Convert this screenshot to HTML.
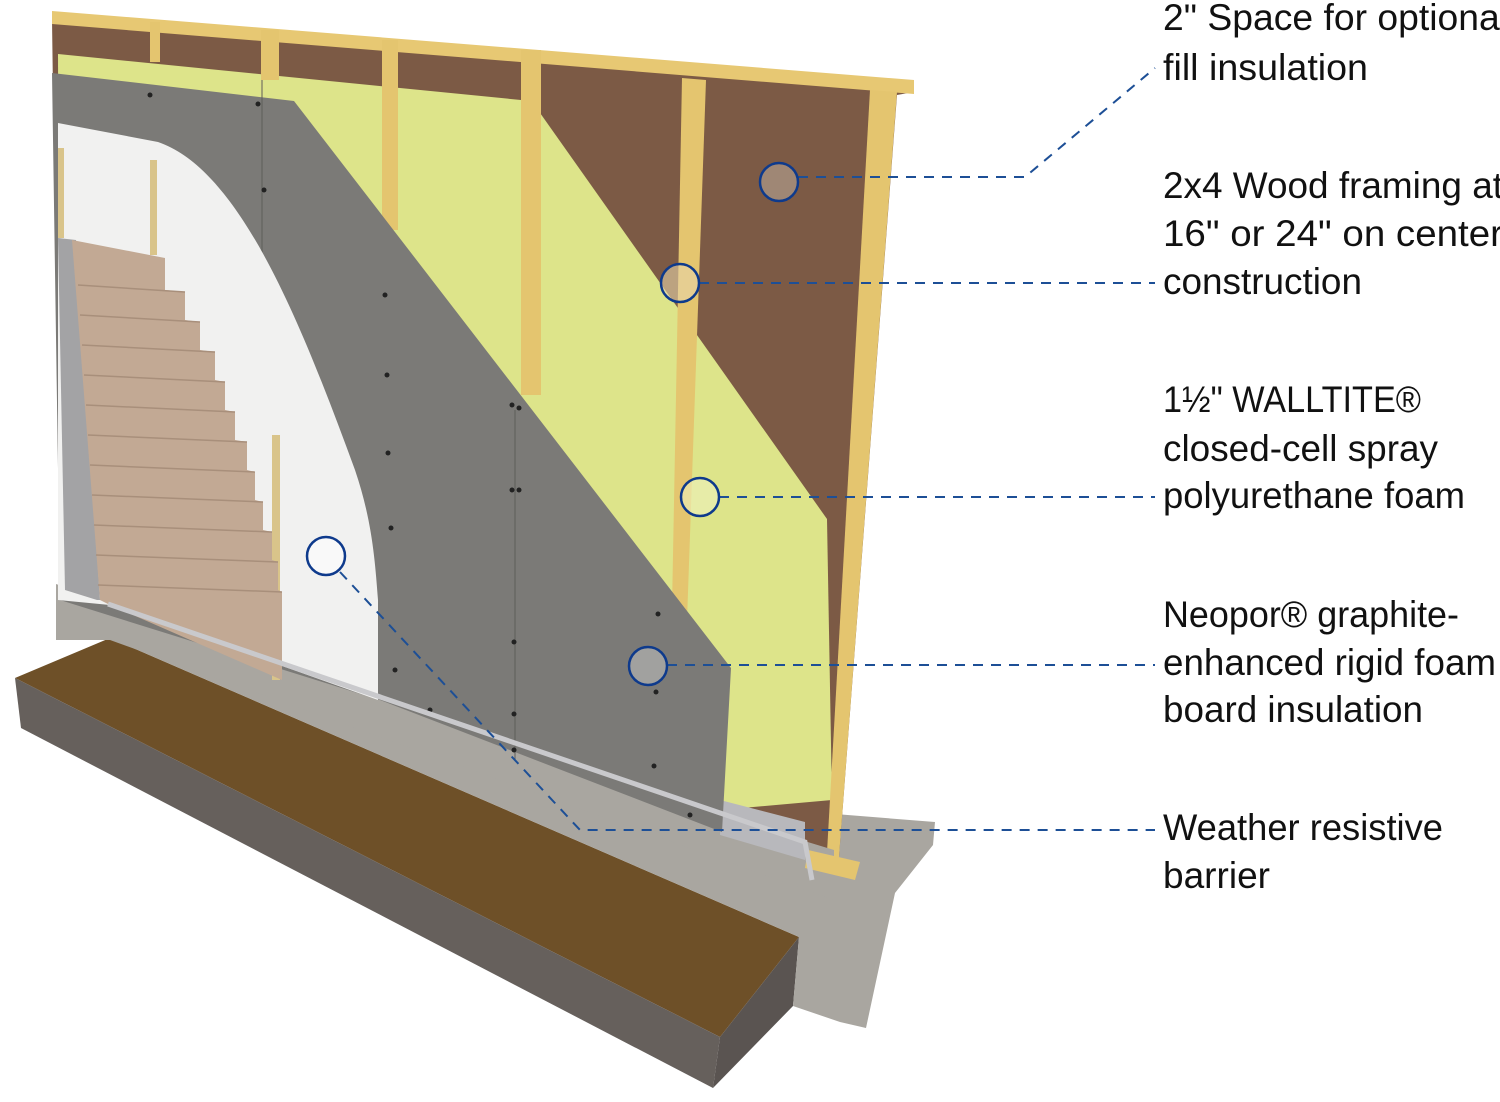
<!DOCTYPE html>
<html><head><meta charset="utf-8"><style>
html,body{margin:0;padding:0;background:#fff;}
svg{display:block;}
text{font-family:"Liberation Sans Narrow","Liberation Sans",sans-serif;font-size:37px;fill:#111;}
</style></head><body>
<svg width="1500" height="1102" viewBox="0 0 1500 1102" xmlns="http://www.w3.org/2000/svg">
<!-- soil slab -->
<polygon points="15,678 110,638 799,937 720,1037" fill="#6e5028"/>
<polygon points="15,678 720,1037 713,1088 21,728" fill="#66605c"/>
<polygon points="720,1037 799,937 793,1006 713,1088" fill="#5a5451"/>
<!-- concrete foundation -->
<polygon points="105,598 810,812 935,822 933,845 895,893 866,1028 840,1022 793,1006 799,937 110,638" fill="#a9a6a0"/>
<!-- wall back sheathing -->
<polygon points="52,20 914,92 897,95 838,870 60,596" fill="#7c5a45"/>
<!-- top plate -->
<polygon points="52,11 914,80 914,94 52,24" fill="#e7c873"/>
<!-- yellow foam -->
<polygon points="58,54 521,100 533,103 827,519 832,800 720,810 60,600" fill="#dde48a"/>
<!-- studs -->
<g fill="#e4c56f">
<rect x="150" y="22" width="10" height="40"/>
<rect x="261" y="30" width="18" height="50"/>
<rect x="382" y="40" width="16" height="190"/>
<rect x="521" y="50" width="20" height="345"/>
<polygon points="682,78 706,80 680,820 668,820"/>
<polygon points="870,90 897,92 838,870 826,870"/>
</g>
<!-- front concrete cover at wall base -->
<polygon points="56,584 722,816 834,850 834,900 110,640 56,640" fill="#a9a6a0"/>
<polygon points="720,800 805,822 805,860 720,835" fill="#b8b8bc"/>
<polygon points="808,850 860,862 855,880 805,868" fill="#e4c56f"/>
<!-- gray board -->
<polygon points="52,73 294,101 731,668 722,832 380,700 60,600" fill="#7b7a77"/>
<line x1="515" y1="410" x2="515" y2="760" stroke="#5e5d5a" stroke-width="1"/>
<line x1="262" y1="80" x2="262" y2="380" stroke="#5e5d5a" stroke-width="1"/>
<g fill="#222">
<circle cx="150" cy="95" r="2.5"/><circle cx="258" cy="104" r="2.5"/><circle cx="264" cy="190" r="2.5"/><circle cx="268" cy="270" r="2.5"/>
<circle cx="385" cy="295" r="2.5"/><circle cx="387" cy="375" r="2.5"/><circle cx="388" cy="453" r="2.5"/><circle cx="391" cy="528" r="2.5"/>
<circle cx="512" cy="405" r="2.5"/><circle cx="519" cy="408" r="2.5"/><circle cx="512" cy="490" r="2.5"/><circle cx="519" cy="490" r="2.5"/>
<circle cx="514" cy="642" r="2.5"/><circle cx="514" cy="714" r="2.5"/><circle cx="514" cy="750" r="2.5"/><circle cx="658" cy="614" r="2.5"/>
<circle cx="656" cy="692" r="2.5"/><circle cx="654" cy="766" r="2.5"/><circle cx="395" cy="670" r="2.5"/><circle cx="430" cy="710" r="2.5"/><circle cx="690" cy="815" r="2.5"/>
</g>
<!-- white WRB -->
<path d="M58,123 L158,142 C240,170 300,320 355,470 C372,520 375,560 378,600 L378,700 L110,605 L58,600 Z" fill="#f1f1f0"/>
<!-- furring strips -->
<rect x="58" y="148" width="6" height="90" fill="#d9c48a"/>
<rect x="150" y="160" width="7" height="95" fill="#d9c48a"/>
<rect x="272" y="435" width="8" height="245" fill="#d9c48a"/>
<!-- metal strip -->
<polygon points="58,238 76,240 100,600 97,600 65,590" fill="#a3a3a5"/>
<!-- siding -->
<polygon points="72,240 165,258 165,290 185,292 185,320 200,322 200,350 215,352 215,380 225,382 225,410 235,412 235,440 247,442 247,470 255,472 255,500 263,502 263,530 272,532 272,560 278,562 278,590 282,592 282,680 110,605 100,600" fill="#c2a994"/>
<g stroke="#a88f7b" stroke-width="1.5">
<line x1="78" y1="285" x2="185" y2="292"/><line x1="80" y1="315" x2="200" y2="322"/><line x1="82" y1="345" x2="215" y2="352"/>
<line x1="84" y1="375" x2="225" y2="382"/><line x1="86" y1="405" x2="235" y2="412"/><line x1="88" y1="435" x2="247" y2="442"/>
<line x1="90" y1="465" x2="255" y2="472"/><line x1="92" y1="495" x2="263" y2="502"/><line x1="94" y1="525" x2="272" y2="532"/>
<line x1="96" y1="555" x2="278" y2="562"/><line x1="98" y1="585" x2="282" y2="592"/>
</g>
<!-- flashing -->
<polyline points="108,604 805,842 812,880" fill="none" stroke="#c9c9cc" stroke-width="5"/>
<!-- callouts -->
<g fill="none" stroke="#1d4f96" stroke-width="2" stroke-dasharray="10,8">
<polyline points="798,177 1025,177 1155,68"/>
<line x1="699" y1="283" x2="1155" y2="283"/>
<line x1="719" y1="497" x2="1155" y2="497"/>
<line x1="667" y1="665" x2="1155" y2="665"/>
<polyline points="340,572 580,830 1155,830"/>
</g>
<g stroke="#0e3a8c" stroke-width="2.5">
<circle cx="779" cy="182" r="19" fill="#b8a596" fill-opacity="0.6"/>
<circle cx="680" cy="283" r="19" fill="#e7d3a8" fill-opacity="0.6"/>
<circle cx="700" cy="497" r="19" fill="#eef2bd" fill-opacity="0.6"/>
<circle cx="648" cy="666" r="19" fill="#bbb" fill-opacity="0.6"/>
<circle cx="326" cy="556" r="19" fill="#fff" fill-opacity="0.6"/>
</g>
<!-- labels -->
<text x="1163" y="30" textLength="345" lengthAdjust="spacingAndGlyphs">2" Space for optional</text>
<text x="1163" y="80" textLength="205" lengthAdjust="spacingAndGlyphs">fill insulation</text>
<text x="1163" y="198" textLength="340" lengthAdjust="spacingAndGlyphs">2x4 Wood framing at</text>
<text x="1163" y="246" textLength="340" lengthAdjust="spacingAndGlyphs">16" or 24" on center</text>
<text x="1163" y="294" textLength="199" lengthAdjust="spacingAndGlyphs">construction</text>
<text x="1163" y="412" textLength="258" lengthAdjust="spacingAndGlyphs">1½" WALLTITE®</text>
<text x="1163" y="461" textLength="275" lengthAdjust="spacingAndGlyphs">closed-cell spray</text>
<text x="1163" y="508" textLength="302" lengthAdjust="spacingAndGlyphs">polyurethane foam</text>
<text x="1163" y="627" textLength="296" lengthAdjust="spacingAndGlyphs">Neopor® graphite-</text>
<text x="1163" y="675" textLength="333" lengthAdjust="spacingAndGlyphs">enhanced rigid foam</text>
<text x="1163" y="722" textLength="260" lengthAdjust="spacingAndGlyphs">board insulation</text>
<text x="1163" y="840" textLength="280" lengthAdjust="spacingAndGlyphs">Weather resistive</text>
<text x="1163" y="888" textLength="107" lengthAdjust="spacingAndGlyphs">barrier</text>
</svg>
</body></html>
